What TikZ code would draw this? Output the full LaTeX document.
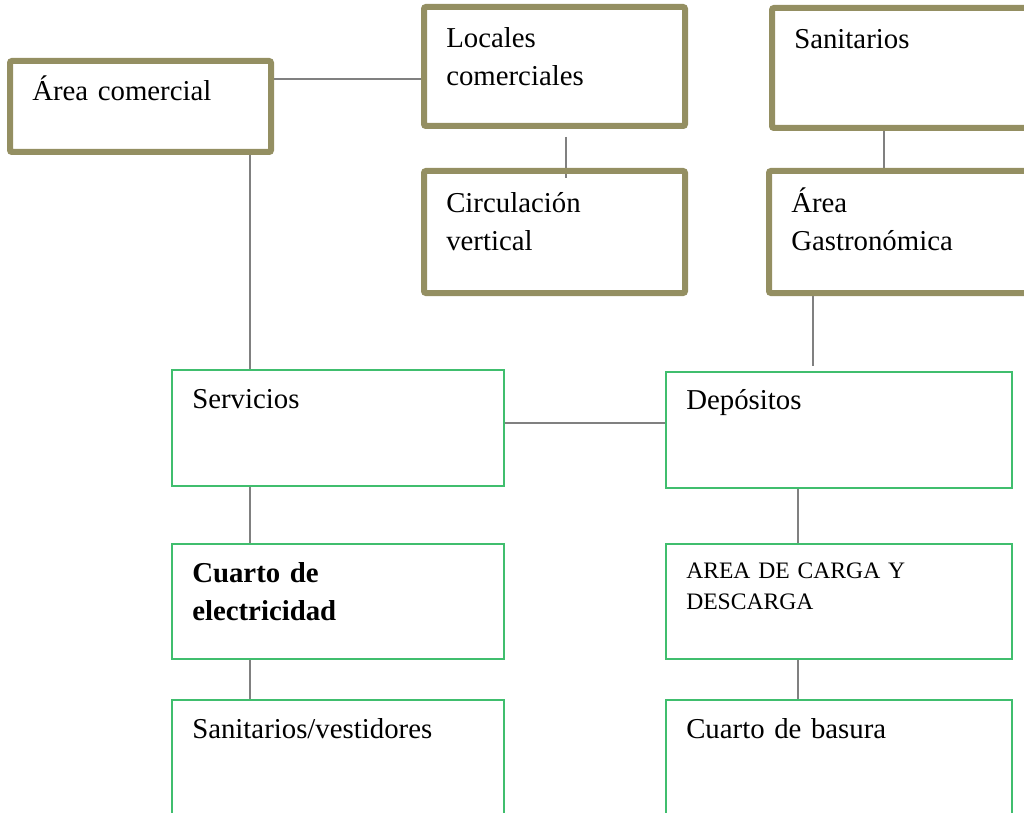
\documentclass[tikz,border=0pt]{standalone}
\usepackage{fontspec}
\setmainfont{Liberation Serif}
\usetikzlibrary{fit,calc,backgrounds}
\definecolor{olivec}{RGB}{148,143,98}
\definecolor{greenc}{RGB}{64,190,110}
\definecolor{linec}{RGB}{128,128,128}
\tikzset{
 olivebox/.style={draw=olivec, line width=4.5pt, rounded corners=1.5pt, inner sep=0pt, outer sep=0pt},
 greenbox/.style={draw=greenc, line width=1.1pt, inner sep=0pt, outer sep=0pt},
 conn/.style={draw=linec, line width=1.5pt},
 lbl/.style={anchor=base west, inner sep=0pt, align=left, text width=200pt, font=\fontsize{21.6}{28.5}\selectfont},
 lblsmall/.style={lbl, font=\fontsize{17.7}{23.25}\selectfont},
}
\begin{document}
\begin{tikzpicture}[x=0.75pt,y=-0.75pt]
\useasboundingbox (0,0) rectangle (1024,813);
\clip (0,0) rectangle (1024,813);
% boxes
\node[olivebox, fit={(10,61)(271,152)}] (ac) {};
\node[olivebox, fit={(424,7)(685,126)}] (loc) {};
\node[olivebox, fit={(424,171)(685,293)}] (circ) {};
\node[olivebox, fit={(772,8)(1040,128)}] (san) {};
\node[olivebox, fit={(769,171)(1040,293)}] (gas) {};
\node[greenbox, fit={(172,370)(504,486)}] (serv) {};
\node[greenbox, fit={(666,372)(1012,488)}] (dep) {};
\node[greenbox, fit={(172,544)(504,659)}] (cuarto) {};
\node[greenbox, fit={(666,544)(1012,659)}] (area) {};
\node[greenbox, fit={(172,700)(504,840)}] (sv) {};
\node[greenbox, fit={(666,700)(1012,840)}] (cb) {};
% labels
\node[lbl] (tac) at (32,101) {Área comercial};
\node[lbl] (tloc) at (446,48) {Locales\\comerciales};
\node[lbl] (tcirc) at (446,212) {Circulación\\vertical};
\node[lbl] (tsan) at (794,49) {Sanitarios};
\node[lbl] (tgas) at (791,212) {Área\\Gastronómica};
\node[lbl] (tserv) at (192,408) {Servicios};
\node[lbl] (tdep) at (686,409) {Depósitos};
\node[lbl, font=\fontsize{21.6}{28.5}\selectfont\bfseries] (tcuarto) at (192,582) {Cuarto de\\electricidad};
\node[lblsmall] (tarea) at (686,578) {AREA DE CARGA Y\\DESCARGA};
\node[lbl] (tsv) at (192,738) {Sanitarios/vestidores};
\node[lbl] (tcb) at (686,738) {Cuarto de basura};
% connectors
\begin{pgfonlayer}{background}
\draw[conn] ($(ac.north east)+(0,18)$) -- ($(loc.north west)+(0,72)$);
\draw[conn] ($(loc.south west)+(142,11)$) -- ($(circ.north west)+(142,7)$);
\draw[conn] ($(san.south west)+(112,0)$) -- ($(gas.north west)+(115,0)$);
\draw[conn] ($(ac.south west)+(240,0)$) -- ($(serv.north west)+(78,0)$);
\draw[conn] ($(gas.south west)+(44,0)$) -- ($(dep.north west)+(147,-6)$);
\draw[conn] ($(serv.north east)+(0,53)$) -- ($(dep.north west)+(0,51)$);
\draw[conn] ($(serv.south west)+(78,0)$) -- ($(cuarto.north west)+(78,0)$);
\draw[conn] ($(cuarto.south west)+(78,0)$) -- ($(sv.north west)+(78,0)$);
\draw[conn] ($(dep.south west)+(132,0)$) -- ($(area.north west)+(132,0)$);
\draw[conn] ($(area.south west)+(132,0)$) -- ($(cb.north west)+(132,0)$);
\end{pgfonlayer}
\end{tikzpicture}
\end{document}
